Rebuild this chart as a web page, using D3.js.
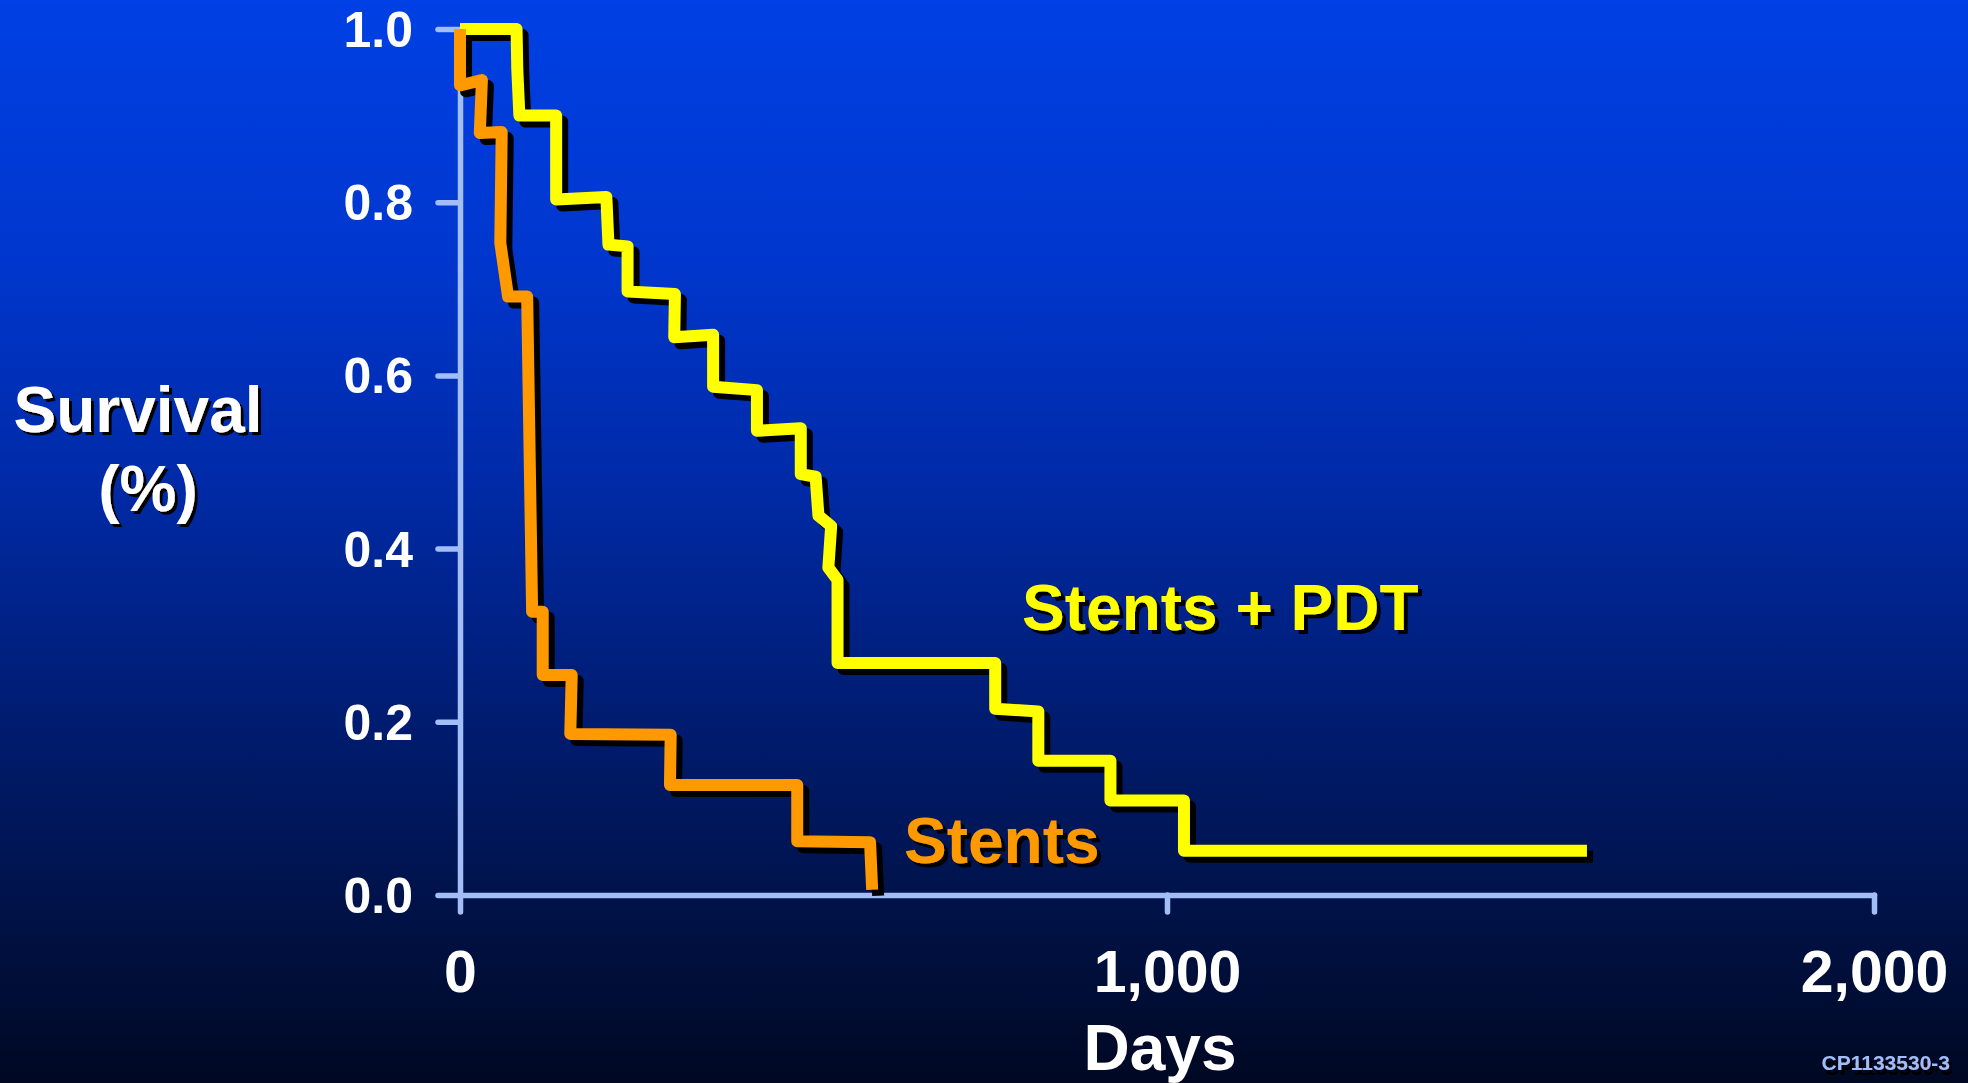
<!DOCTYPE html>
<html>
<head>
<meta charset="utf-8">
<script src="https://cdn.jsdelivr.net/npm/d3@7"></script>
<style>
  html, body { margin: 0; padding: 0; background: #000a24; }
  svg { display: block; }
  text { font-family: "Liberation Sans", Arial, Helvetica, sans-serif; font-weight: bold; }
</style>
</head>
<body>
<svg id="chart" width="1968" height="1083"></svg>
<script>
// ---- data ----
const xTicks = [0, 1000, 2000];
const yTicks = [0, 0.2, 0.4, 0.6, 0.8, 1.0];

// Stents + PDT : [day, survival]
const pdtDays = [0, 80, 81, 84, 136, 136, 207, 210, 237, 237, 304, 303, 358, 358, 420, 420, 482, 482, 503, 507, 525, 521, 534, 534, 757, 757, 818, 818, 920, 920, 1024, 1024, 1594];
const pdtSurv = [1.0, 1.0, 0.954, 0.900, 0.900, 0.803, 0.806, 0.751, 0.749, 0.697, 0.694, 0.644, 0.647, 0.587, 0.583, 0.536, 0.539, 0.486, 0.483, 0.438, 0.426, 0.378, 0.364, 0.268, 0.268, 0.215, 0.212, 0.155, 0.155, 0.109, 0.109, 0.051, 0.051];

// Stents : [day, survival]
const stentDays = [0, 0, 31, 28, 59, 57, 68, 95, 102, 117, 117, 158, 156, 298, 297, 477, 477, 580, 583];
const stentSurv = [1.0, 0.935, 0.941, 0.880, 0.881, 0.753, 0.691, 0.691, 0.327, 0.327, 0.254, 0.254, 0.186, 0.185, 0.127, 0.127, 0.062, 0.061, 0.006];

const seriesNames = ["Stents + PDT", "Stents"];
const seriesColors = ["#ffff00", "#ff9900"];
// label anchors in data units (day, survival)
const labelDays = [795, 628];
const labelSurv = [0.306, 0.037];

const xTitle = "Days";
const yTitle = ["Survival", "(%)"];
const codeLabel = "CP1133530-3";

// ---- drawing ----
const W = 1968, H = 1083;
const svg = d3.select("#chart");

const defs = svg.append("defs");
const grad = defs.append("linearGradient").attr("id", "bg").attr("x1", 0).attr("y1", 0).attr("x2", 0).attr("y2", 1);
[[0, "#0040e4"], [0.25, "#0036cc"], [0.45, "#002aa6"], [0.65, "#001d74"], [0.82, "#00134c"], [1, "#000822"]]
  .forEach(([o, c]) => grad.append("stop").attr("offset", o).attr("stop-color", c));

function addShadow(id, dx, dy) {
  defs.append("filter").attr("id", id)
    .attr("x", "-10%").attr("y", "-10%").attr("width", "130%").attr("height", "140%")
    .append("feDropShadow").attr("dx", dx).attr("dy", dy).attr("stdDeviation", 0)
    .attr("flood-color", "#000000").attr("flood-opacity", 1);
}
addShadow("shLabel", 4, 4);
addShadow("shTitle", 3, 3);
addShadow("shCode", 3, 5);

svg.append("rect").attr("width", W).attr("height", H).attr("fill", "url(#bg)");

const x = d3.scaleLinear().domain([0, 2000]).range([460, 1874]);
const y = d3.scaleLinear().domain([0, 1]).range([895, 29]);

const axisColor = "#a3bdf7";

// Axes
const xAxis = svg.append("g").attr("transform", `translate(0,${y(0)})`)
  .call(d3.axisBottom(x).tickValues(xTicks).tickSize(17).tickSizeOuter(0).tickFormat(d3.format(",")));
const yAxis = svg.append("g").attr("transform", `translate(${x(0)},0)`)
  .call(d3.axisLeft(y).tickValues(yTicks).tickSize(22).tickSizeOuter(0).tickPadding(25).tickFormat(d3.format(".1f")));

[xAxis, yAxis].forEach(g => {
  g.select(".domain").attr("stroke", axisColor).attr("stroke-width", 5.5).attr("stroke-linecap", "round");
  g.selectAll(".tick line").attr("stroke", axisColor).attr("stroke-width", 5.5).attr("stroke-linecap", "round");
  g.selectAll(".tick text").attr("fill", "#ffffff").attr("font-family", "Liberation Sans, Arial, sans-serif").attr("font-weight", "bold");
});
xAxis.selectAll(".tick text").attr("font-size", 59).attr("y", 97).attr("dy", 0);
yAxis.selectAll(".tick text").attr("font-size", 50).attr("dy", "0.35em");

// Lines
const line = d3.line().x(d => x(d[0])).y(d => y(d[1]));
const pdt = pdtDays.map((d, i) => [d, pdtSurv[i]]);
const stents = stentDays.map((d, i) => [d, stentSurv[i]]);
const all = [pdt, stents];

all.forEach((data, i) => {
  svg.append("path").datum(data).attr("d", line)
    .attr("transform", "translate(6,6)")
    .attr("fill", "none").attr("stroke", "#000000").attr("stroke-width", 12)
    .attr("stroke-linejoin", "round").attr("stroke-linecap", "butt");
  svg.append("path").datum(data).attr("d", line)
    .attr("fill", "none").attr("stroke", seriesColors[i]).attr("stroke-width", 12)
    .attr("stroke-linejoin", "round").attr("stroke-linecap", "butt");
});

// Series labels
seriesNames.forEach((n, i) => {
  svg.append("text").attr("x", x(labelDays[i])).attr("y", y(labelSurv[i])).text(n)
    .attr("font-size", 64).attr("fill", seriesColors[i]).attr("filter", "url(#shLabel)");
});

// Y title
svg.append("text").attr("x", 138).attr("y", 432).text(yTitle[0])
  .attr("font-size", 64).attr("fill", "#ffffff").attr("text-anchor", "middle").attr("filter", "url(#shTitle)");
svg.append("text").attr("x", 148).attr("y", 511).text(yTitle[1])
  .attr("font-size", 64).attr("fill", "#ffffff").attr("text-anchor", "middle").attr("filter", "url(#shTitle)");

// X title
svg.append("text").attr("x", 1160).attr("y", 1070).text(xTitle)
  .attr("font-size", 64).attr("fill", "#ffffff").attr("text-anchor", "middle");

// Code label
svg.append("text").attr("x", 1950).attr("y", 1070).text(codeLabel)
  .attr("font-size", 21).attr("fill", "#a3bdf7").attr("text-anchor", "end").attr("filter", "url(#shCode)");
</script>
</body>
</html>
